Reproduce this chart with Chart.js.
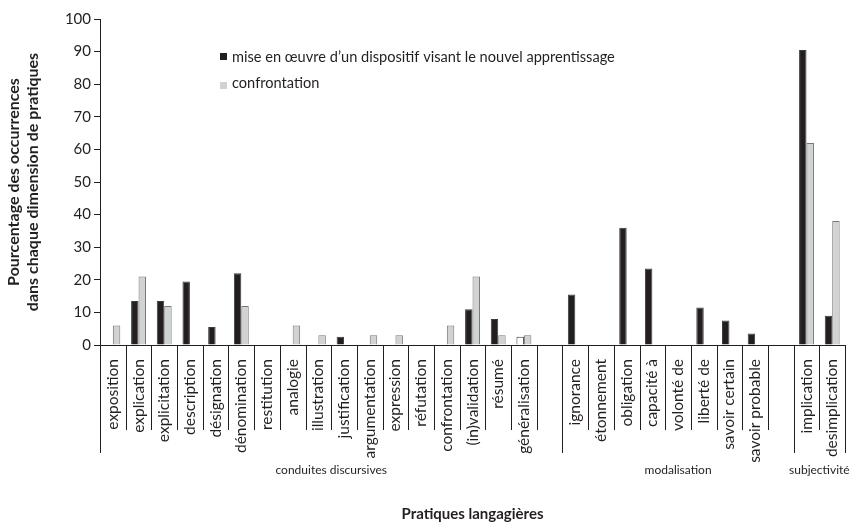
<!DOCTYPE html>
<html><head><meta charset="utf-8">
<script src="https://cdn.jsdelivr.net/npm/chart.js@4"></script>
<style>html,body{margin:0;padding:0;background:#fff}#wrap{width:865px;height:525px;position:relative}</style>
</head><body><div id="wrap"><canvas id="c"></canvas></div>
<script>
const categories = ['exposition','explication','explicitation','description','désignation','dénomination','restitution','analogie','illustration','justification','argumentation','expression','réfutation','confrontation','(in)validation','résumé','généralisation','',
  'ignorance','étonnement','obligation','capacité à','volonté de','liberté de','savoir certain','savoir probable','',
  'implication','desimplication'];
const miseEnOeuvre = [0,13.5,13.5,19.5,5.5,22,0,0,0,2.5,0,0,0,0,11,8,2.5,null, 15.5,0,36,23.5,0,11.5,7.5,3.5,null, 90.5,9];
const confrontationVals = [6,21,12,0,0,12,0,6,3,0,3,3,0,6,21,3,3,null, 0,0,0,0,0,0,0,0,null, 62,38];
const seriesNames = ["mise en œuvre d’un dispositif visant le nouvel apprentissage", 'confrontation'];
const groupLabels = ['conduites discursives','modalisation','subjectivité'];
const groupSizes = [18, 9, 2];
const yTitle = ['Pourcentage des occurrences','dans chaque dimension de pratiques'];
const xTitle = 'Pratiques langagières';

const FONT = 'Lato, "Open Sans", sans-serif';
const INK = '#231f20';
const GRAY = '#d1d2d3';

const decorPlugin = {
  id: 'decor',
  afterDraw(chart) {
    const ctx = chart.ctx, xs = chart.scales.x;
    const p0 = xs.getPixelForValue(0), p1 = xs.getPixelForValue(1);
    const slot = p1 - p0;
    const axisY = chart.chartArea.bottom;
    const n = categories.length;
    const groupEdges = [0];
    groupSizes.reduce((acc, s) => { groupEdges.push(acc + s); return acc + s; }, 0);
    ctx.save();
    ctx.strokeStyle = INK; ctx.lineWidth = 1;
    for (let i = 0; i <= n; i++) {
      const x = Math.round(p0 - slot / 2 + i * slot) + 0.5;
      const isGroup = groupEdges.includes(i);
      ctx.beginPath();
      ctx.moveTo(x, axisY);
      ctx.lineTo(x, axisY + (isGroup ? 108 : 85));
      ctx.stroke();
    }
    ctx.fillStyle = INK;
    ctx.font = '12px ' + FONT;
    ctx.textAlign = 'center'; ctx.textBaseline = 'middle';
    for (let g = 0; g < groupLabels.length; g++) {
      const a = p0 - slot / 2 + groupEdges[g] * slot;
      const b = p0 - slot / 2 + groupEdges[g + 1] * slot;
      ctx.fillText(groupLabels[g], (a + b) / 2, axisY + 125);
    }
    // legend
    const lx = 220, ly = [57, 83];
    const colors = [INK, GRAY];
    ctx.font = '14.6px ' + FONT;
    ctx.textAlign = 'left';
    for (let k = 0; k < 2; k++) {
      ctx.fillStyle = colors[k];
      ctx.fillRect(lx, ly[k] - 4 + (k ? 3 : 0), 7, 7);
      ctx.fillStyle = INK;
      ctx.fillText(seriesNames[k], lx + 12, ly[k]);
    }
    ctx.restore();
  }
};

new Chart(document.getElementById('c'), {
  type: 'bar',
  data: {
    labels: categories,
    datasets: [
      { label: seriesNames[0], data: miseEnOeuvre,
        backgroundColor: (c) => categories[c.dataIndex] === 'généralisation' ? '#ffffff' : INK,
        borderColor: '#3c3c3c', borderWidth: 1 },
      { label: seriesNames[1], data: confrontationVals,
        backgroundColor: GRAY, borderColor: '#777777', borderWidth: 1 }
    ]
  },
  options: {
    responsive: true, maintainAspectRatio: false, animation: false, devicePixelRatio: 1,
    layout: { padding: { top: 19, right: 11, left: 0, bottom: 0 } },
    datasets: { bar: { categoryPercentage: 0.58, barPercentage: 1.0 } },
    plugins: { legend: { display: false }, tooltip: { enabled: false } },
    scales: {
      x: {
        offset: true,
        grid: { display: false, drawTicks: false },
        border: { display: true, color: INK, width: 1 },
        ticks: { autoSkip: false, minRotation: 90, maxRotation: 90, padding: 14,
                 color: INK, font: { family: FONT, size: 15.5 } },
        title: { display: true, text: xTitle, color: INK,
                 font: { family: FONT, size: 15, weight: 'bold' }, padding: { top: 0, bottom: 2 } },
        afterFit: (s) => { s.height = 180; }
      },
      y: {
        min: 0, max: 100,
        ticks: { stepSize: 10, color: INK, padding: 3, font: { family: FONT, size: 15 } },
        grid: { drawOnChartArea: false, drawTicks: true, tickLength: 6, color: INK },
        border: { display: true, color: INK, width: 1 },
        title: { display: true, text: yTitle, color: INK,
                 font: { family: FONT, size: 16, weight: 'bold' }, padding: { top: 4, bottom: 0 } },
        afterFit: (s) => { s.width = 100; }
      }
    }
  },
  plugins: [decorPlugin]
});
</script>
</body></html>
